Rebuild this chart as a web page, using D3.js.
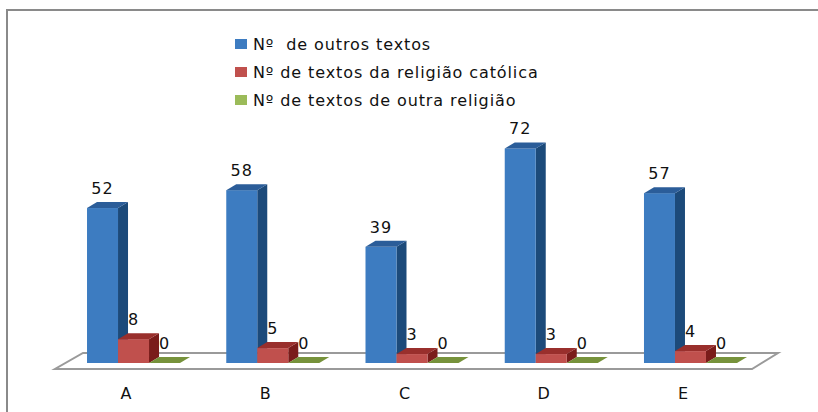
<!DOCTYPE html>
<html>
<head>
<meta charset="utf-8">
<style>
body { margin: 0; background: #fff; }
svg { font-family: "DejaVu Sans", Verdana, sans-serif; }
</style>
</head>
<body>
<svg width="818" height="412"></svg>
<script src="https://d3js.org/d3.v7.min.js"></script>
<script>

var categories = ["A", "B", "C", "D", "E"];
var seriesNames = ["Nº  de outros textos", "Nº de textos da religião católica", "Nº de textos de outra religião"];
var outros = [52, 58, 39, 72, 57];
var catolica = [8, 5, 3, 3, 4];
var outraReligiao = [0, 0, 0, 0, 0];

var seriesValues = [outros, catolica, outraReligiao];

// front / side / top colours of each series
var colors = [
  { front: "#3d7cc1", side: "#1c4a7a", top: "#2b5d99" },
  { front: "#c0504d", side: "#7a1c1a", top: "#992f2c" },
  { front: "#9bbb59", side: "#5f7a2a", top: "#76923b" }
];

var svg = d3.select("svg");
var depthX = 10, depthY = 6;

// outer frame
svg.append("path")
    .attr("d", "M7,412V10H818")
    .attr("fill", "none")
    .attr("stroke", "#8a8a8a")
    .attr("stroke-width", 2);

var x0 = d3.scaleBand().domain(categories).range([63.9, 760.1]).padding(0);
var x1 = d3.scaleBand().domain(d3.range(seriesNames.length)).range([0, 93]).padding(0);
var y = d3.scaleLinear().domain([0, 80]).range([363, 124.6]);

// floor
var floorFront = 369, floorBack = 353;
svg.append("polygon")
    .attr("points", [[55, floorFront], [752, floorFront], [778, floorBack], [83, floorBack]].join(" "))
    .attr("fill", "#fff")
    .attr("stroke", "#9a9a9a")
    .attr("stroke-width", 2);

function gx(c) { return x0(c) + (x0.bandwidth() - 93) / 2; }

var cell = svg.selectAll("g.cat")
  .data(categories)
  .enter().append("g")
    .attr("class", "cat")
    .attr("transform", function(c) { return "translate(" + gx(c) + ",0)"; });

seriesValues.forEach(function(vals, s) {
  var w = x1.bandwidth();
  cell.each(function(c, i) {
    var g = d3.select(this);
    var v = vals[i];
    var xl = x1(s), xr = xl + w;
    var yt = y(v), yb = y(0);
    if (v > 0) {
      g.append("polygon")
          .attr("points", [[xr, yt], [xr + depthX, yt - depthY], [xr + depthX, yb - depthY], [xr, yb]].join(" "))
          .attr("fill", colors[s].side);
      g.append("rect")
          .attr("x", xl).attr("y", yt)
          .attr("width", w).attr("height", yb - yt)
          .attr("fill", colors[s].front);
    }
    g.append("polygon")
        .attr("points", [[xl, yt], [xr, yt], [xr + depthX, yt - depthY], [xl + depthX, yt - depthY]].join(" "))
        .attr("fill", colors[s].top);
  });
});

// data labels
seriesValues.forEach(function(vals, s) {
  cell.append("text")
      .attr("x", x1(s) + x1.bandwidth() / 2)
      .attr("y", function(c, i) { return y(vals[i]) - 14; })
      .attr("text-anchor", "middle")
      .attr("font-size", "16px")
      .attr("letter-spacing", "1px")
      .attr("fill", "#111")
      .text(function(c, i) { return vals[i]; });
});

// category labels
cell.append("text")
    .attr("x", 39)
    .attr("y", 399)
    .attr("text-anchor", "middle")
    .attr("font-size", "16px")
    .attr("fill", "#111")
    .text(function(c) { return c; });

// legend
var legend = svg.selectAll("g.legend")
  .data(seriesNames)
  .enter().append("g")
    .attr("class", "legend")
    .attr("transform", function(d, i) { return "translate(235," + (44 + i * 28) + ")"; });

legend.append("rect")
    .attr("x", 0).attr("y", -5)
    .attr("width", 12).attr("height", 10)
    .attr("fill", function(d, i) { return colors[i].front; });

legend.append("text")
    .attr("x", 18)
    .attr("y", 5.5)
    .attr("font-size", "16px")
    .attr("letter-spacing", "0.9px")
    .attr("fill", "#111")
    .style("white-space", "pre")
    .text(function(d) { return d; });

</script>
</body>
</html>
